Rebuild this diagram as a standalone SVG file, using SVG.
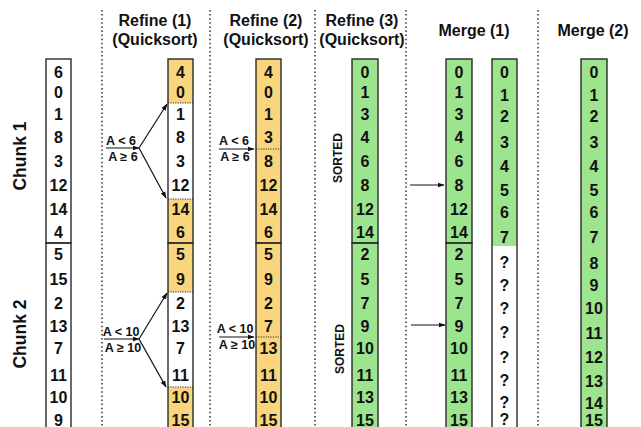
<svg xmlns="http://www.w3.org/2000/svg" width="641" height="427" viewBox="0 0 641 427">
<style>
text{font-family:"Liberation Sans",Arial,sans-serif;font-weight:bold;fill:#111}
.h{font-size:16px;text-anchor:middle}
.v{font-size:16px;text-anchor:middle}
.c{font-size:17.5px;text-anchor:middle}
.s{font-size:12px;text-anchor:middle}
.l{font-size:12.5px;text-anchor:middle}
.box{fill:none;stroke:#2a2a2a;stroke-width:1.4}
.dot{stroke:#222;stroke-width:1.4;stroke-dasharray:1.5 2.6}
.idot{stroke:#333;stroke-width:1.2;stroke-dasharray:1.2 1.2}
.or{fill:#F9D67E}
.gr{fill:#9DE48E}
.wh{fill:#fff}
.arr{stroke:#111;stroke-width:1.2;fill:none;marker-end:url(#ah)}
</style>
<defs>
<marker id="ah" viewBox="0 0 10 10" refX="9" refY="5" markerWidth="7" markerHeight="7" markerUnits="userSpaceOnUse" orient="auto">
<path d="M0,1.5 L10,5 L0,8.5 z" fill="#111"/>
</marker>
</defs>
<rect width="641" height="427" fill="#fff"/>
<g id="dividers">
<line class="dot" x1="102" y1="10" x2="102" y2="427"/>
<line class="dot" x1="210" y1="10" x2="210" y2="427"/>
<line class="dot" x1="315" y1="10" x2="315" y2="427"/>
<line class="dot" x1="406" y1="10" x2="406" y2="427"/>
<line class="dot" x1="538" y1="10" x2="538" y2="427"/>
</g>
<g id="headers">
<text class="h" x="155" y="26">Refine (1)</text>
<text class="h" x="155" y="45">(Quicksort)</text>
<text class="h" x="266" y="26">Refine (2)</text>
<text class="h" x="266" y="45">(Quicksort)</text>
<text class="h" x="362" y="26">Refine (3)</text>
<text class="h" x="362" y="45">(Quicksort)</text>
<text class="h" x="474" y="36">Merge (1)</text>
<text class="h" x="593" y="36">Merge (2)</text>
</g>
<g id="chunk-labels">
<text class="c" x="26" y="156" transform="rotate(-90 26 156)">Chunk 1</text>
<text class="c" x="26" y="334" transform="rotate(-90 26 334)">Chunk 2</text>
<text class="s" x="342" y="158" transform="rotate(-90 342 158)">SORTED</text>
<text class="s" x="344" y="349" transform="rotate(-90 344 349)">SORTED</text>
</g>
<g id="input">
<rect class="wh" x="46" y="59" width="25" height="380"/>
<rect class="box" x="46" y="59" width="25" height="184"/>
<rect class="box" x="46" y="243" width="25" height="200"/>
<text class="v" x="58.5" y="77.5">6</text><text class="v" x="58.5" y="97.5">0</text><text class="v" x="58.5" y="119.5">1</text><text class="v" x="58.5" y="142.5">8</text><text class="v" x="58.5" y="166.5">3</text><text class="v" x="58.5" y="190.5">12</text><text class="v" x="58.5" y="214.5">14</text><text class="v" x="58.5" y="237.5">4</text>
<text class="v" x="58.5" y="259.5">5</text><text class="v" x="58.5" y="284.5">15</text><text class="v" x="58.5" y="308.5">2</text><text class="v" x="58.5" y="331.5">13</text><text class="v" x="58.5" y="353.5">7</text><text class="v" x="58.5" y="380.5">11</text><text class="v" x="58.5" y="402.5">10</text><text class="v" x="58.5" y="425.5">9</text>
</g>
<g id="refine1">
<rect class="or" x="168" y="59" width="25" height="44"/>
<rect class="wh" x="168" y="103" width="25" height="96"/>
<rect class="or" x="168" y="199" width="25" height="93"/>
<rect class="wh" x="168" y="292" width="25" height="95"/>
<rect class="or" x="168" y="387" width="25" height="56"/>
<line class="idot" x1="168" y1="103" x2="193" y2="103"/>
<line class="idot" x1="168" y1="199" x2="193" y2="199"/>
<line class="idot" x1="168" y1="292" x2="193" y2="292"/>
<line class="idot" x1="168" y1="387" x2="193" y2="387"/>
<rect class="box" x="168" y="59" width="25" height="184"/>
<rect class="box" x="168" y="243" width="25" height="200"/>
<text class="v" x="180.5" y="77.5">4</text><text class="v" x="180.5" y="97.5">0</text><text class="v" x="180.5" y="119.5">1</text><text class="v" x="180.5" y="142.5">8</text><text class="v" x="180.5" y="166.5">3</text><text class="v" x="180.5" y="190.5">12</text><text class="v" x="180.5" y="214.5">14</text><text class="v" x="180.5" y="237.5">6</text>
<text class="v" x="180.5" y="259.5">5</text><text class="v" x="180.5" y="284.5">9</text><text class="v" x="180.5" y="308.5">2</text><text class="v" x="180.5" y="331.5">13</text><text class="v" x="180.5" y="353.5">7</text><text class="v" x="180.5" y="380.5">11</text><text class="v" x="180.5" y="402.5">10</text><text class="v" x="180.5" y="425.5">15</text>
</g>
<g id="refine2">
<rect class="or" x="256" y="59" width="25" height="384"/>
<line class="idot" x1="256" y1="149" x2="281" y2="149"/>
<line class="idot" x1="256" y1="337" x2="281" y2="337"/>
<rect class="box" x="256" y="59" width="25" height="184"/>
<rect class="box" x="256" y="243" width="25" height="200"/>
<text class="v" x="268.5" y="77.5">4</text><text class="v" x="268.5" y="97.5">0</text><text class="v" x="268.5" y="119.5">1</text><text class="v" x="268.5" y="142.5">3</text><text class="v" x="268.5" y="166.5">8</text><text class="v" x="268.5" y="190.5">12</text><text class="v" x="268.5" y="214.5">14</text><text class="v" x="268.5" y="237.5">6</text>
<text class="v" x="268.5" y="259.5">5</text><text class="v" x="268.5" y="284.5">9</text><text class="v" x="268.5" y="308.5">2</text><text class="v" x="268.5" y="331.5">7</text><text class="v" x="268.5" y="353.5">13</text><text class="v" x="268.5" y="380.5">11</text><text class="v" x="268.5" y="402.5">10</text><text class="v" x="268.5" y="425.5">15</text>
</g>
<g id="refine3">
<rect class="gr" x="352" y="59" width="26" height="384"/>
<rect class="box" x="352" y="59" width="26" height="184"/>
<rect class="box" x="352" y="243" width="26" height="200"/>
<text class="v" x="365" y="77.5">0</text><text class="v" x="365" y="97.5">1</text><text class="v" x="365" y="119.5">3</text><text class="v" x="365" y="142.5">4</text><text class="v" x="365" y="166.5">6</text><text class="v" x="365" y="190.5">8</text><text class="v" x="365" y="214.5">12</text><text class="v" x="365" y="237.5">14</text>
<text class="v" x="365" y="259.5">2</text><text class="v" x="365" y="284.5">5</text><text class="v" x="365" y="308.5">7</text><text class="v" x="365" y="331.5">9</text><text class="v" x="365" y="353.5">10</text><text class="v" x="365" y="380.5">11</text><text class="v" x="365" y="402.5">13</text><text class="v" x="365" y="425.5">15</text>
</g>
<g id="merge1-input">
<rect class="gr" x="446" y="59" width="26" height="384"/>
<rect class="box" x="446" y="59" width="26" height="184"/>
<rect class="box" x="446" y="243" width="26" height="200"/>
<text class="v" x="459" y="77.5">0</text><text class="v" x="459" y="97.5">1</text><text class="v" x="459" y="119.5">3</text><text class="v" x="459" y="142.5">4</text><text class="v" x="459" y="166.5">6</text><text class="v" x="459" y="190.5">8</text><text class="v" x="459" y="214.5">12</text><text class="v" x="459" y="237.5">14</text>
<text class="v" x="459" y="259.5">2</text><text class="v" x="459" y="284.5">5</text><text class="v" x="459" y="308.5">7</text><text class="v" x="459" y="331.5">9</text><text class="v" x="459" y="353.5">10</text><text class="v" x="459" y="380.5">11</text><text class="v" x="459" y="402.5">13</text><text class="v" x="459" y="425.5">15</text>
</g>
<g id="merge1-output">
<rect class="gr" x="492" y="59" width="25" height="187"/>
<rect class="wh" x="492" y="246" width="25" height="197"/>
<rect class="box" x="492" y="59" width="25" height="384"/>
<text class="v" x="504.5" y="77.5">0</text><text class="v" x="504.5" y="100.5">1</text><text class="v" x="504.5" y="121.5">2</text><text class="v" x="504.5" y="147.5">3</text><text class="v" x="504.5" y="171.5">4</text><text class="v" x="504.5" y="195.5">5</text><text class="v" x="504.5" y="217.5">6</text><text class="v" x="504.5" y="242.5">7</text>
<text class="v" x="504.5" y="267.5">?</text><text class="v" x="504.5" y="290.5">?</text><text class="v" x="504.5" y="313.5">?</text><text class="v" x="504.5" y="337.5">?</text><text class="v" x="504.5" y="362.5">?</text><text class="v" x="504.5" y="385.5">?</text><text class="v" x="504.5" y="407.5">?</text><text class="v" x="504.5" y="424.5">?</text>
</g>
<g id="merge2">
<rect class="gr" x="581" y="59" width="26" height="384"/>
<rect class="box" x="581" y="59" width="26" height="384"/>
<text class="v" x="594" y="77.5">0</text><text class="v" x="594" y="100.5">1</text><text class="v" x="594" y="121.5">2</text><text class="v" x="594" y="147.5">3</text><text class="v" x="594" y="171.5">4</text><text class="v" x="594" y="195.5">5</text><text class="v" x="594" y="217.5">6</text><text class="v" x="594" y="242.5">7</text>
<text class="v" x="594" y="268.5">8</text><text class="v" x="594" y="290.5">9</text><text class="v" x="594" y="313.5">10</text><text class="v" x="594" y="338.5">11</text><text class="v" x="594" y="362.5">12</text><text class="v" x="594" y="386.5">13</text><text class="v" x="594" y="408.5">14</text><text class="v" x="594" y="425.5">15</text>
</g>
<g id="connectors">
<line class="arr" x1="106" y1="148" x2="139" y2="148"/>
<line class="arr" x1="139" y1="148" x2="167" y2="104"/>
<line class="arr" x1="139" y1="148" x2="166" y2="198"/>
<line class="arr" x1="104" y1="339" x2="139" y2="339"/>
<line class="arr" x1="139" y1="339" x2="167" y2="293"/>
<line class="arr" x1="139" y1="339" x2="166" y2="387"/>
<line class="arr" x1="219" y1="149" x2="254" y2="149"/>
<line class="arr" x1="219" y1="337" x2="254" y2="337"/>
<line class="arr" x1="410" y1="185" x2="444" y2="185"/>
<line class="arr" x1="411" y1="325" x2="445" y2="325"/>
<text class="l" x="121" y="145">A &lt; 6</text>
<text class="l" x="123" y="161">A ≥ 6</text>
<text class="l" x="121" y="336">A &lt; 10</text>
<text class="l" x="123" y="352">A ≥ 10</text>
<text class="l" x="234" y="145">A &lt; 6</text>
<text class="l" x="235" y="161">A ≥ 6</text>
<text class="l" x="235" y="333">A &lt; 10</text>
<text class="l" x="237" y="349">A ≥ 10</text>
</g>
</svg>
